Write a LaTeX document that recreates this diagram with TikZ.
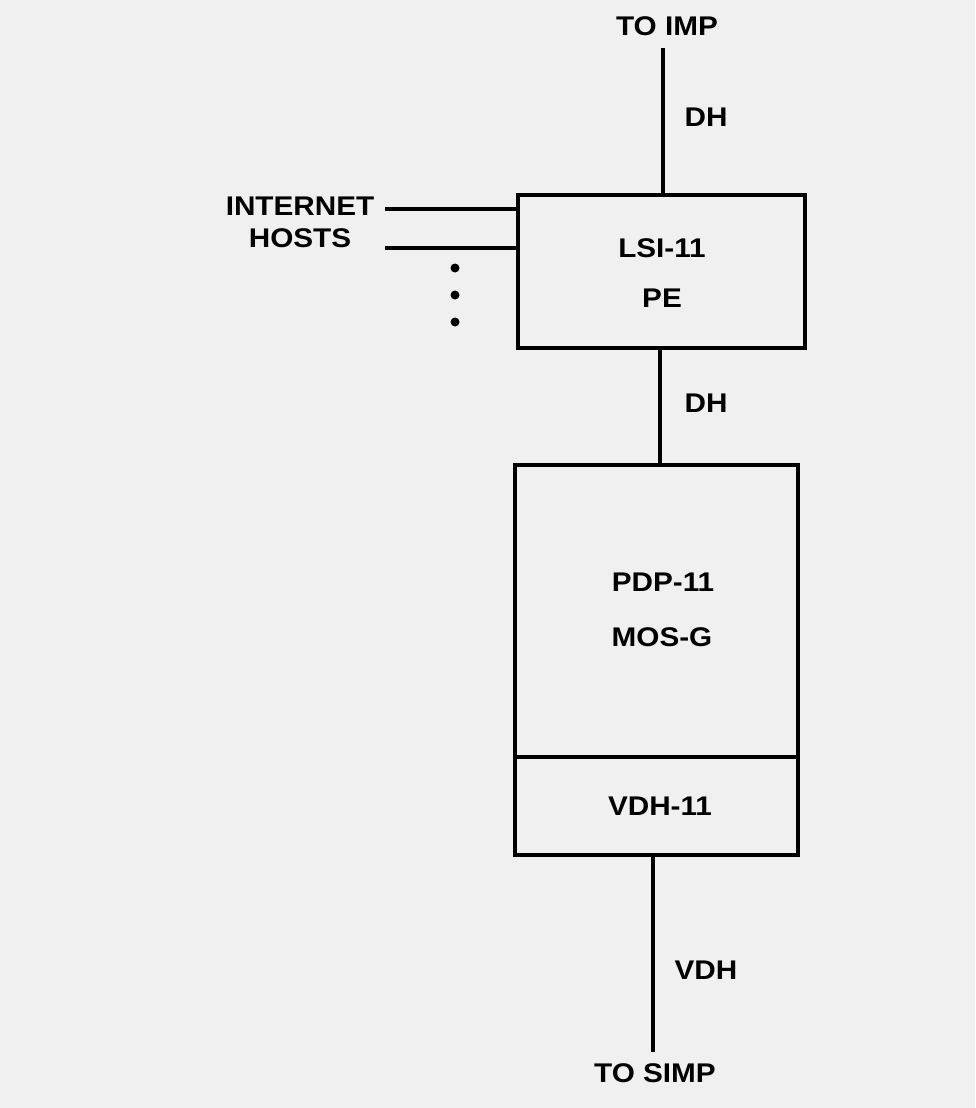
\documentclass[tikz,border=0pt]{standalone}
\usepackage{fontspec}
\setmainfont{Liberation Sans}[FakeStretch=1.1]
\begin{document}
\begin{tikzpicture}[x=1pt,y=-1pt,
  lbl/.style={font=\fontsize{27}{29}\selectfont\bfseries, inner sep=0pt},
  boxline/.style={line width=4pt},
  conn/.style={line width=3.2pt},
  dot/.style={circle, fill=black, inner sep=0pt, minimum size=9pt}]
\fill[black!6] (0,0) rectangle (975,1108);
\useasboundingbox (0,0) rectangle (975,1108);
% LSI-11 box
\node[boxline, draw, minimum width=287pt, minimum height=153pt, inner sep=0pt] (lsi) at (661.5,271.5) {};
\node[lbl] (lsit) at (662,248) {LSI-11};
\node[lbl] (pet) at (662,298) {PE};
% PDP box
\node[boxline, draw, minimum width=283pt, minimum height=390pt, inner sep=0pt] (pdp) at (656.5,660) {};
\coordinate (dl) at (515,757);
\coordinate (dr) at (798,757);
\draw[conn] (dl) -- (dr);
\node[lbl] (pdpt) at (663,582) {PDP-11};
\node[lbl] (most) at (662,637) {MOS-G};
\node[lbl] (vdht) at (660,806) {VDH-11};
% top
\node[lbl] (toimp) at (667,26) {TO IMP};
\coordinate (timpe) at (663,48);
\draw[conn] (timpe) -- (timpe |- lsi.north);
\node[lbl] (dh1) at (706,117) {DH};
% middle
\draw[conn] (660,348) -- (660,465);
\node[lbl] (dh2) at (706,403) {DH};
% bottom
\node[lbl] (tosimp) at (655,1073) {TO SIMP};
\coordinate (simpe) at (653,1052);
\draw[conn] (simpe |- pdp.south) -- (simpe);
\node[lbl] (vdh) at (706,970) {VDH};
% internet hosts
\node[lbl, align=center] (inet) at (300,222) {INTERNET\\[3pt]HOSTS};
\coordinate (h1) at (385,209);
\coordinate (h2) at (385,248);
\draw[conn] (h1) -- (h1 -| lsi.west);
\draw[conn] (h2) -- (h2 -| lsi.west);
\node[dot] (d1) at (455,268) {};
\node[dot] (d2) at (455,295) {};
\node[dot] (d3) at (455,322) {};
\end{tikzpicture}
\end{document}
